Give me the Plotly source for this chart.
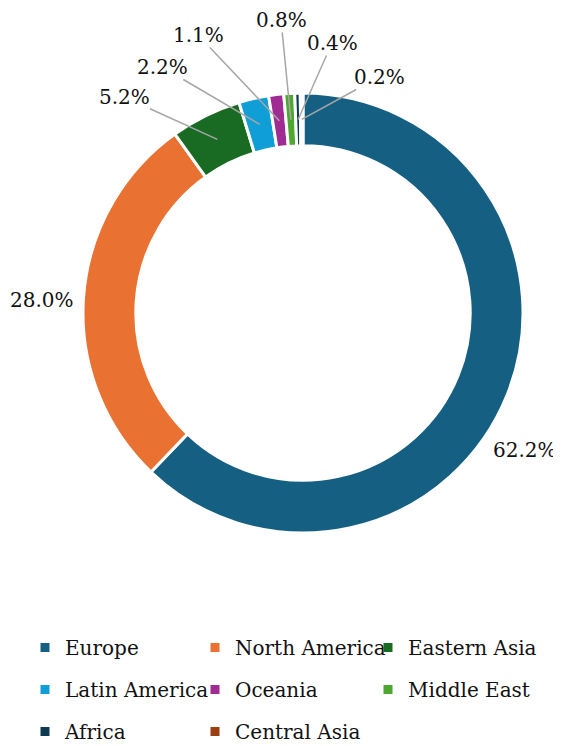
import math
import plotly.graph_objects as go

regions = ["Europe", "North America", "Eastern Asia", "Latin America",
           "Oceania", "Middle East", "Africa", "Central Asia"]
shares = [62.2, 28.0, 5.2, 2.2, 1.1, 0.8, 0.4, 0.2]
colors = ["#156082", "#E97132", "#196B24", "#0F9ED5",
          "#A02B93", "#4EA72E", "#0B3A52", "#9A3F12"]

# legend column assignment (reading order of the 3-column legend)
legend_cols = ["legend", "legend2", "legend3", "legend",
               "legend2", "legend3", "legend", "legend2"]

# label placement (style): offset of each label centre from the pie centre, px
label_offsets = [(222, 137), (-261, -13), (-179, -216), (-141, -246),
                 (-105, -278), (-22, -293), (29, -270), (76, -236)]
has_leader = [False, False, True, True, True, True, True, True]

FONT = "Georgia, 'DejaVu Serif', serif"
W, H = 561, 746
PAGE = 8  # page margin around the figure in the browser
ML, MT, SIDE = 83 - PAGE, 93 - PAGE, 440
MR, MB = W - ML - SIDE, H - MT - SIDE
HOLE = 0.76

fig = go.Figure()
fig.add_trace(go.Pie(
    labels=regions,
    values=shares,
    hole=HOLE,
    sort=False,
    direction="clockwise",
    rotation=0,
    marker=dict(colors=colors, line=dict(color="white", width=3)),
    textinfo="none",
    showlegend=False,
    hoverinfo="label+value",
))

# legend entries (one per region, split into three columns)
for name, col, leg in zip(regions, colors, legend_cols):
    fig.add_trace(go.Scatter(
        x=[None], y=[None], mode="markers", name=name,
        marker=dict(symbol="square", size=9, color=col),
        legend=leg, legendgroup=name, showlegend=True, hoverinfo="skip",
    ))

# geometry of the pie in pixels (plot area is square)
pw, ph = SIDE, SIDE
cx, cy = ML + pw / 2, MT + ph / 2
R = min(pw, ph) / 2
r_mid = R * (1 + HOLE) / 2
total = sum(shares)


def to_paper(px, py):
    return (px - ML) / pw, (MT + ph - py) / ph


annotations = []
cum = 0.0
for v, (dx, dy), lead in zip(shares, label_offsets, has_leader):
    frac = (cum + v / 2) / total
    cum += v
    theta = 2 * math.pi * frac
    tipx, tipy = cx + r_mid * math.sin(theta), cy - r_mid * math.cos(theta)
    lx, ly = cx + dx, cy + dy
    text = f"{v:.1f}%"
    if lead:
        xp, yp = to_paper(tipx, tipy)
        annotations.append(dict(
            x=xp, y=yp, xref="paper", yref="paper",
            ax=lx - tipx, ay=ly - tipy, axref="pixel", ayref="pixel",
            text=text, showarrow=True, arrowhead=0, arrowwidth=1.5,
            arrowcolor="#A6A6A6", borderpad=0,
            font=dict(family=FONT, size=20, color="#111111"),
        ))
    else:
        xp, yp = to_paper(lx, ly)
        annotations.append(dict(
            x=xp, y=yp, xref="paper", yref="paper", text=text,
            showarrow=False, xanchor="center", yanchor="middle",
            font=dict(family=FONT, size=20, color="#111111"),
        ))

legend_common = dict(
    orientation="v", xref="container", yref="container",
    yanchor="top", xanchor="left", y=1 - 620 / H,
    font=dict(family=FONT, size=20, color="#111111"),
    tracegroupgap=13, bgcolor="rgba(0,0,0,0)",
)

fig.update_layout(
    width=W, height=H,
    margin=dict(l=ML, r=MR, t=MT, b=MB, autoexpand=False),
    paper_bgcolor="white",
    plot_bgcolor="white",
    font=dict(family=FONT, color="#111111"),
    xaxis=dict(visible=False),
    yaxis=dict(visible=False),
    annotations=annotations,
    legend=dict(x=17 / W, **legend_common),
    legend2=dict(x=187 / W, **legend_common),
    legend3=dict(x=360 / W, **legend_common),
)

fig.write_html("out.html")
